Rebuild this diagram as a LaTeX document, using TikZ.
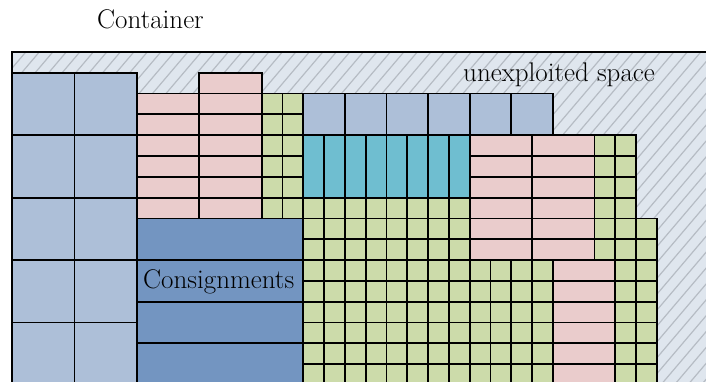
\documentclass[tikz,border=0pt]{standalone}
\usepackage{fontspec}
\definecolor{lblue}{RGB}{173,191,216}
\definecolor{pinkc}{RGB}{234,204,204}
\definecolor{greenc}{RGB}{204,219,170}
\definecolor{tealc}{RGB}{111,190,208}
\definecolor{dblue}{RGB}{115,149,193}
\definecolor{voidbg}{RGB}{223,230,238}
\definecolor{hatchc}{RGB}{182,188,196}
% a block of equal cells: colour, x0, y0, columns, rows, cell width, cell height
\newcommand\packcells[7]{%
  \foreach \i in {1,...,#4}{%
    \foreach \j in {1,...,#5}{%
      \draw[cell,fill=#1] ({#2+(\i-1)*#6},{#3+(\j-1)*#7}) rectangle ++(#6,#7);
    }%
  }%
}
\begin{document}
\begin{tikzpicture}[x=1pt,y=-1pt,
  cell/.style={draw=black,line width=1.8pt},
  hatch/.style={draw=hatchc,line width=1.2pt},
  lbl/.style={inner sep=0pt,anchor=base west,font=\rmfamily\fontsize{27pt}{32pt}\selectfont}]
\clip (0,0) rectangle (706,382);
% container and its unused space
\fill[voidbg] (12,52) rectangle (730,400);
\begin{scope}
  \clip (12,52) rectangle (730,400);
  \foreach \k in {-40,...,70} \draw[hatch] ({\k*13.5},400) -- ++(340,-400);
\end{scope}
\draw[line width=1.5pt] (730,52) -- (12,52) -- (12,400);
% packed items on a 20.8pt grid
\begin{scope}[xshift=12pt,yshift=-52pt,x=20.8pt,y=-20.8pt]
  \packcells{lblue}{0}{1}{2}{5}{3}{3}
  \packcells{pinkc}{6}{2}{2}{6}{3}{1}
  \packcells{pinkc}{9}{1}{1}{1}{3}{1}
  \packcells{greenc}{12}{2}{2}{6}{1}{1}
  \packcells{lblue}{14}{2}{6}{1}{2}{2}
  \packcells{tealc}{14}{4}{8}{1}{1}{3}
  \packcells{greenc}{14}{7}{8}{9}{1}{1}
  \packcells{pinkc}{22}{4}{2}{6}{3}{1}
  \packcells{greenc}{28}{4}{2}{6}{1}{1}
  \packcells{greenc}{30}{8}{1}{2}{1}{1}
  \packcells{greenc}{22}{10}{4}{6}{1}{1}
  \packcells{pinkc}{26}{10}{1}{6}{3}{1}
  \packcells{greenc}{29}{10}{2}{6}{1}{1}
  \packcells{dblue}{6}{8}{1}{4}{8}{2}
\end{scope}
% labels
\node[lbl] (container) at (97,29) {Container};
\node[lbl] (unexploited) at (463,82) {unexploited space};
\node[lbl] (consignments) at (143,288) {Consignments};
\end{tikzpicture}
\end{document}
